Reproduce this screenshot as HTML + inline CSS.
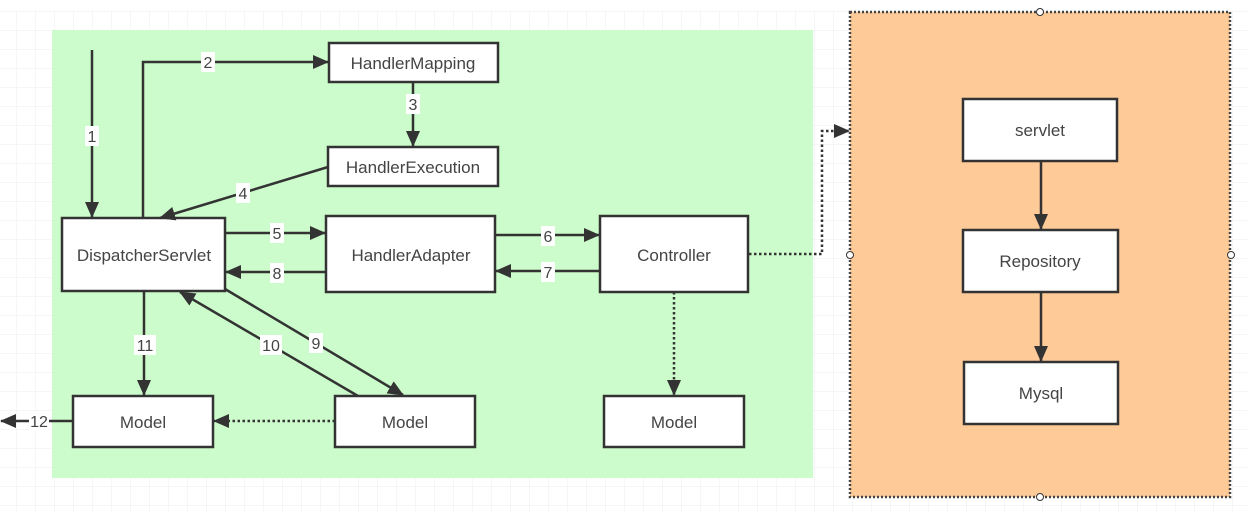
<!DOCTYPE html>
<html><head><meta charset="utf-8"><style>
html,body{margin:0;padding:0;background:#fff;}
svg{display:block;}
text{font-family:"Liberation Sans",sans-serif;fill:#444;}
</style></head><body>
<svg width="1248" height="512" viewBox="0 0 1248 512" xmlns="http://www.w3.org/2000/svg">
<defs>
<pattern id="g" x="16" y="11" width="19" height="19" patternUnits="userSpaceOnUse">
<path d="M0 0H19M0 0V19" stroke="#ececec" stroke-width="1" fill="none"/>
</pattern>
<marker id="b" markerWidth="16" markerHeight="14" refX="15" refY="7" orient="auto" markerUnits="userSpaceOnUse" viewBox="0 0 16 14">
<path d="M0 0L16 7L0 14Z" fill="#333"/>
</marker>
</defs>
<rect x="0" y="11" width="1248" height="501" fill="url(#g)"/>
<rect x="52" y="30" width="761" height="448" fill="#ccfccb"/>
<rect x="850" y="12" width="380" height="485" fill="#fdca98" stroke="#444" stroke-width="2.5" stroke-dasharray="2 2"/>
<g fill="#fff" stroke="#333" stroke-width="1">
<circle cx="1040" cy="12" r="3.5"/>
<circle cx="1040" cy="497" r="3.5"/>
<circle cx="850" cy="255" r="3.5"/>
<circle cx="1231" cy="255" r="3.5"/>
</g>
<g fill="#fff" stroke="#333" stroke-width="2.5">
<rect x="329" y="43" width="169" height="39"/>
<rect x="328" y="147" width="170" height="39"/>
<rect x="62" y="218" width="163" height="73"/>
<rect x="326" y="216" width="169" height="76"/>
<rect x="600" y="216" width="148" height="76"/>
<rect x="73" y="396" width="140" height="51"/>
<rect x="335" y="396" width="140" height="51"/>
<rect x="604" y="396" width="140" height="51"/>
<rect x="963" y="99" width="154" height="62"/>
<rect x="963" y="230" width="155" height="62"/>
<rect x="964" y="362" width="154" height="62"/>
</g>
<g font-size="17" text-anchor="middle">
<text x="413" y="69">HandlerMapping</text>
<text x="413" y="173">HandlerExecution</text>
<text x="144" y="261">DispatcherServlet</text>
<text x="411" y="261">HandlerAdapter</text>
<text x="674" y="261">Controller</text>
<text x="143" y="428">Model</text>
<text x="405" y="428">Model</text>
<text x="674" y="428">Model</text>
<text x="1040" y="136">servlet</text>
<text x="1040" y="267">Repository</text>
<text x="1041" y="399">Mysql</text>
</g>
<g stroke="#333" stroke-width="2.5" fill="none">
<path d="M92 50V217" marker-end="url(#b)"/>
<path d="M143 218V62H328" marker-end="url(#b)"/>
<path d="M413 83V146" marker-end="url(#b)"/>
<path d="M328 167L160 218" marker-end="url(#b)"/>
<path d="M225 233H325" marker-end="url(#b)"/>
<path d="M326 272H226" marker-end="url(#b)"/>
<path d="M495 235H599" marker-end="url(#b)"/>
<path d="M600 271H496" marker-end="url(#b)"/>
<path d="M144 291V395" marker-end="url(#b)"/>
<path d="M358 396L180 292" marker-end="url(#b)"/>
<path d="M225 289L403 395" marker-end="url(#b)"/>
<path d="M73 421H1" marker-end="url(#b)"/>
<path d="M1041 161V229" marker-end="url(#b)"/>
<path d="M1041 292V361" marker-end="url(#b)"/>
</g>
<g stroke="#333" stroke-width="2.5" fill="none" stroke-dasharray="2.5 2.5">
<path d="M335 421H214" marker-end="url(#b)"/>
<path d="M674 292V395" marker-end="url(#b)"/>
<path d="M749 254H822V131H849" marker-end="url(#b)"/>
</g>
<g font-size="16" text-anchor="middle">
<g fill="#fff" stroke="none">
<rect x="85" y="126" width="14" height="20"/>
<rect x="201" y="52" width="14" height="20"/>
<rect x="406" y="94" width="14" height="20"/>
<rect x="236" y="183" width="14" height="20"/>
<rect x="270" y="223" width="14" height="20"/>
<rect x="270" y="263" width="14" height="20"/>
<rect x="541" y="226" width="14" height="20"/>
<rect x="541" y="262" width="14" height="20"/>
<rect x="134" y="335" width="22" height="20"/>
<rect x="260" y="335" width="22" height="20"/>
<rect x="309" y="333" width="14" height="20"/>
<rect x="29" y="411" width="20" height="20"/>
</g>
<text x="92" y="142">1</text>
<text x="208" y="68">2</text>
<text x="413" y="110">3</text>
<text x="243" y="199">4</text>
<text x="277" y="239">5</text>
<text x="277" y="279">8</text>
<text x="548" y="242">6</text>
<text x="548" y="278">7</text>
<text x="145" y="351">11</text>
<text x="271" y="351">10</text>
<text x="316" y="349">9</text>
<text x="39" y="427">12</text>
</g>
</svg>
</body></html>
